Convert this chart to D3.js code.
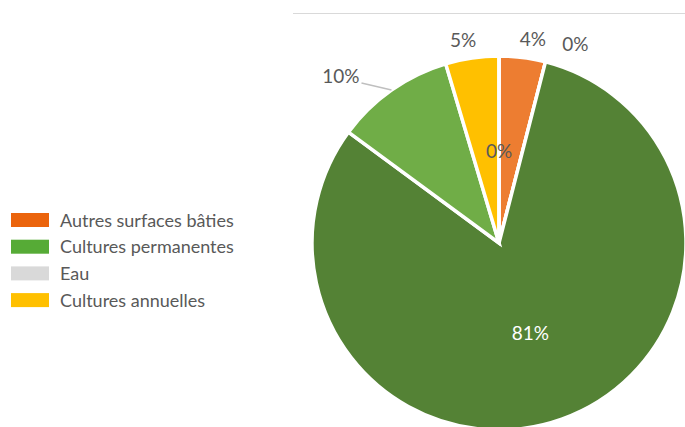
<!DOCTYPE html>
<html><head><meta charset="utf-8">
<script src="https://cdn.jsdelivr.net/npm/d3@7"></script>
<style>body{margin:0;background:#fff;overflow:hidden}svg{display:block}</style>
</head><body>
<script>
// Data
const categories = ["Autres surfaces bâties","Eau","Prairies","Cultures permanentes","Cultures annuelles","Autres"];
const values = [4.0, 0, 81.1, 10.3, 4.6, 0];
const sliceColors = ["#ED7D31","#D9D9D9","#548235","#70AD47","#FFC000","#A5A5A5"];
const legendItems = ["Autres surfaces bâties","Cultures permanentes","Eau","Cultures annuelles"];
const legendColors = ["#EB640C","#56AB36","#D9D9D9","#FFC000"];

const W=685,H=427;
const svg=d3.select("body").append("svg").attr("width",W).attr("height",H);
const font="Lato, 'Open Sans', sans-serif";

svg.append("line").attr("x1",293).attr("x2",685).attr("y1",13.5).attr("y2",13.5)
  .attr("stroke","#d9d9d9").attr("stroke-width",1.2);

const cx=499, cy=243, r=187;
const g=svg.append("g").attr("transform",`translate(${cx},${cy})`);
const pie=d3.pie().sort(null).value(d=>d)(values);
const arc=d3.arc().innerRadius(0).outerRadius(r);
g.selectAll("path").data(pie).join("path")
  .attr("d",arc).attr("fill",(d,i)=>sliceColors[i])
  .attr("stroke","#fff").attr("stroke-width",3.5).attr("stroke-linejoin","miter");

const total=d3.sum(values);
const fmt=v=>Math.round(v/total*100)+"%";
const mode=["out","out","in","leader","out","in"];
const nudge=[8,25,0,0,-6,0];
const outArc=d3.arc().innerRadius(r+20).outerRadius(r+20);
const inArc=d3.arc().innerRadius(0).outerRadius(r);
const lblSize=19, lblWeight=400;
pie.forEach((d,i)=>{
  let x,y,fill="#595959";
  if(mode[i]==="in"){
    [x,y]=inArc.centroid(d);
    if(d.value>0) fill="#fff";
  } else if(mode[i]==="out"){
    [x,y]=outArc.centroid(d); x+=nudge[i];
  } else {
    const a=(d.startAngle+d.endAngle)/2;
    const p0=[Math.sin(a)*r,-Math.cos(a)*r];
    const p1=[p0[0]-30,p0[1]-7];
    g.append("polyline").attr("points",[p0,p1].map(p=>p.join(",")).join(" "))
      .attr("fill","none").attr("stroke","#bfbfbf").attr("stroke-width",1.3);
    g.append("text").attr("x",p1[0]-2).attr("y",p1[1]-5).attr("text-anchor","end")
      .attr("dominant-baseline","middle").attr("font-family",font).attr("font-size",lblSize)
      .attr("font-weight",lblWeight).attr("fill",fill).text(fmt(d.value));
    return;
  }
  g.append("text").attr("x",x).attr("y",y+4).attr("text-anchor","middle")
    .attr("dominant-baseline","middle").attr("font-family",font).attr("font-size",lblSize)
    .attr("font-weight",lblWeight).attr("fill",fill).text(fmt(d.value));
});

// Legend
const lg=svg.append("g").attr("transform","translate(11,220)");
legendItems.forEach((t,i)=>{
  const row=lg.append("g").attr("transform",`translate(0,${i*26.7})`);
  row.append("rect").attr("x",0).attr("y",-7).attr("width",38).attr("height",14).attr("fill",legendColors[i]);
  row.append("text").attr("x",49).attr("y",2).attr("dominant-baseline","middle")
    .attr("font-family",font).attr("font-size",18).attr("font-weight",400)
    .attr("fill","#595959").text(t);
});
</script>
</body></html>
